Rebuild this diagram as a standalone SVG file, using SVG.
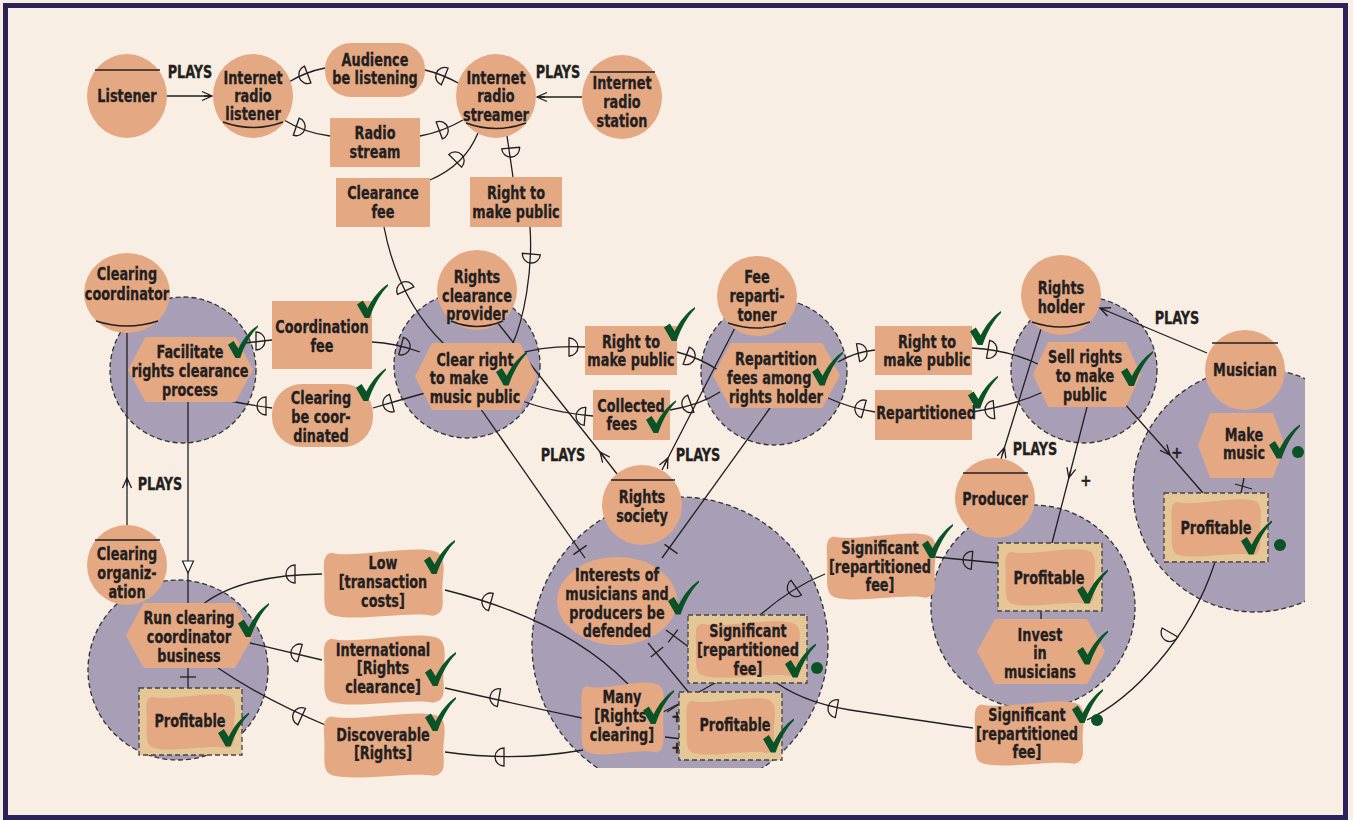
<svg xmlns="http://www.w3.org/2000/svg" xmlns:xlink="http://www.w3.org/1999/xlink" width="1353" height="820" viewBox="0 0 1353 820">
<style>
.t{font-family:"Liberation Sans Narrow","DejaVu Sans Condensed","Roboto Condensed","Liberation Sans",sans-serif;font-weight:bold;font-size:17px;fill:#231f20;stroke:#231f20;stroke-width:0.3;text-anchor:middle}
.plus{font-size:15px}
.sal{fill:#e4a883}
.bnd{fill:#a89fb7;stroke:#333;stroke-width:1.3;stroke-dasharray:5 3}
.box{fill:#e5c697;stroke:#444;stroke-width:1.3;stroke-dasharray:5 3}
.ln{fill:none;stroke:#231f20;stroke-width:1.3}
.ag{stroke:#231f20;stroke-width:1.5;fill:none}
.chk{fill:#0a5327}
</style>
<defs>
<symbol id="hex" viewBox="0 0 100 60" preserveAspectRatio="none"><polygon points="0,30 14,0 86,0 100,30 86,60 14,60" fill="#e4a883"/></symbol>
<symbol id="soft" viewBox="0 0 100 60" preserveAspectRatio="none"><path d="M8,4 C25,9 75,-3 92,3 C101,6 99,18 98,30 C97,44 102,56 90,58 C72,54 28,63 10,58 C0,56 2,44 2,30 C2,18 -1,5 8,4 Z" fill="#e4a883"/></symbol>
<symbol id="ck" viewBox="0 0 32 36"><path d="M0,21 L6,17 L11,25 C16,15 23,6 32,0 L32,2 C24,10 18,21 13,35 L8,35 Z" fill="#0a5327"/></symbol>
<path id="dd" d="M-4,-9 A9,9 0 0 1 -4,9 Z" fill="none" stroke="#231f20" stroke-width="1.3"/>
<marker id="v" viewBox="0 0 12 12" refX="11" refY="6" markerWidth="12" markerHeight="12" markerUnits="userSpaceOnUse" orient="auto"><path d="M1,1.5 L11,6 L1,10.5 M3,6 L11,6" fill="none" stroke="#231f20" stroke-width="1.3"/></marker>
<marker id="tri" viewBox="0 0 14 14" refX="13" refY="7" markerWidth="14" markerHeight="14" markerUnits="userSpaceOnUse" orient="auto"><path d="M1,1.5 L13,7 L1,12.5 Z" fill="#fff" stroke="#231f20" stroke-width="1.2"/></marker>
<clipPath id="cRS"><rect x="0" y="0" width="1353" height="768"/></clipPath>
<clipPath id="cMu"><rect x="0" y="0" width="1305" height="820"/></clipPath>
</defs>

<rect x="0" y="0" width="1353" height="820" fill="#f8eee3"/>
<rect x="5.5" y="5.5" width="1340" height="812" fill="none" stroke="#2d2159" stroke-width="5"/>

<g id="boundaries">
<circle class="bnd" cx="183" cy="370" r="73"/>
<circle class="bnd" cx="178" cy="670" r="90"/>
<circle class="bnd" cx="467" cy="365" r="73"/>
<circle class="bnd" cx="774" cy="372" r="73"/>
<circle class="bnd" cx="1084" cy="370" r="73"/>
<circle class="bnd" cx="680" cy="645" r="148" clip-path="url(#cRS)"/>
<circle class="bnd" cx="1033" cy="607" r="102"/>
<circle class="bnd" cx="1255" cy="490" r="122" clip-path="url(#cMu)"/>
</g>

<g id="connectors">
<path class="ln" d="M167,96 L212,96" marker-end="url(#v)"/>
<path class="ln" d="M582,97 L537,97" marker-end="url(#v)"/>
<path class="ln" d="M289,82 Q305,72 325,68"/>
<path class="ln" d="M425,70 Q442,74 460,84"/>
<path class="ln" d="M284,120 Q305,133 330,136"/>
<path class="ln" d="M420,136 Q442,132 463,120"/>
<path class="ln" d="M478,133 Q465,165 430,180"/>
<path class="ln" d="M507,136 L513,177"/>
<path class="ln" d="M384,227 Q398,300 445,345"/>
<path class="ln" d="M530,227 C533,270 524,320 512,345"/>
<path class="ln" d="M245,343 L272,340"/>
<path class="ln" d="M372,342 Q395,343 420,352"/>
<path class="ln" d="M425,393 Q400,400 373,408"/>
<path class="ln" d="M272,408 Q250,405 230,401"/>
<path class="ln" d="M515,355 Q545,345 585,347"/>
<path class="ln" d="M677,352 Q700,358 718,370"/>
<path class="ln" d="M520,400 Q550,412 593,416"/>
<path class="ln" d="M670,410 Q700,405 720,392"/>
<path class="ln" d="M838,362 Q855,352 875,350"/>
<path class="ln" d="M828,398 Q850,408 875,412"/>
<path class="ln" d="M972,348 Q1010,350 1040,365"/>
<path class="ln" d="M1043,392 Q1015,405 972,412"/>
<path class="ln" d="M1207,353 L1100,308" marker-end="url(#v)"/>
<path class="ln" d="M1001,459 L1004.5,447.5 L1041,329" marker-mid="url(#v)"/>
<path class="ln" d="M127,525 L127,478 L127,333" marker-mid="url(#v)"/>
<path class="ln" d="M617,474 L600,452 L497,322" marker-mid="url(#v)"/>
<path class="ln" d="M662,470 L668,458 L738,322" marker-mid="url(#v)"/>
<path class="ln" d="M188,402 L188,573 L188,603" marker-mid="url(#tri)"/>
<path class="ln" d="M188,668 L188,688"/>
<line class="ln" x1="180" y1="677" x2="196" y2="677"/>
<path class="ln" d="M202,605 Q240,575 322,574"/>
<path class="ln" d="M250,643 L322,660"/>
<path class="ln" d="M218,668 Q265,700 330,727"/>
<path class="ln" d="M445,590 Q565,620 628,684"/>
<path class="ln" d="M445,688 Q520,705 582,718"/>
<path class="ln" d="M445,752 Q515,762 583,750"/>
<path class="ln" d="M478,405 L585,558"/>
<line class="ln" x1="573.4" y1="554.6" x2="586.6" y2="545.4"/>
<path class="ln" d="M770,408 L662,558"/>
<line class="ln" x1="664.5" y1="544.4" x2="677.5" y2="553.6"/>
<path class="ln" d="M666,630 L690,648"/>
<line class="ln" x1="668.2" y1="642.4" x2="677.8" y2="629.6"/>
<path class="ln" d="M648,643 L695,700"/>
<line class="ln" x1="650.8" y1="657.1" x2="663.2" y2="646.9"/>
<path class="ln" d="M727,677 Q700,690 667,712"/>
<path class="ln" d="M663,712 L690,698" marker-end="url(#v)"/>
<path class="ln" d="M665,737 L690,740" marker-end="url(#v)"/>
<path class="ln" d="M825,574 Q790,588 758,617"/>
<path class="ln" d="M770,678 Q800,702 850,710 Q930,722 973,728"/>
<path class="ln" d="M935,557 L998,563"/>
<path class="ln" d="M1087,407 L1068.8,478 L1052,543" marker-mid="url(#v)"/>
<path class="ln" d="M1123,402 L1170,455 L1203,493" marker-mid="url(#v)"/>
<path class="ln" d="M1244,478 L1241,493"/>
<line class="ln" x1="1235" y1="484" x2="1252" y2="489"/>
<path class="ln" d="M1041,611 L1041,619"/>
<path class="ln" d="M1215,562 C1190,640 1130,700 1087,720"/>
<use href="#dd" transform="translate(304,76) rotate(159)"/>
<use href="#dd" transform="translate(441,75) rotate(202)"/>
<use href="#dd" transform="translate(300,128) rotate(19)"/>
<use href="#dd" transform="translate(443,129) rotate(-20)"/>
<use href="#dd" transform="translate(458,158) rotate(-45)"/>
<use href="#dd" transform="translate(511,152) rotate(85)"/>
<use href="#dd" transform="translate(404,287) rotate(-115)"/>
<use href="#dd" transform="translate(531,258) rotate(95)"/>
<use href="#dd" transform="translate(260,341) rotate(0)"/>
<use href="#dd" transform="translate(405,347) rotate(15)"/>
<use href="#dd" transform="translate(388,404) rotate(165)"/>
<use href="#dd" transform="translate(262,406) rotate(180)"/>
<use href="#dd" transform="translate(573,347) rotate(0)"/>
<use href="#dd" transform="translate(690,357) rotate(20)"/>
<use href="#dd" transform="translate(581,416) rotate(185)"/>
<use href="#dd" transform="translate(687,405) rotate(160)"/>
<use href="#dd" transform="translate(862,352) rotate(-10)"/>
<use href="#dd" transform="translate(992,350) rotate(10)"/>
<use href="#dd" transform="translate(990,410) rotate(175)"/>
<use href="#dd" transform="translate(860,408) rotate(195)"/>
<use href="#dd" transform="translate(291,574) rotate(180)"/>
<use href="#dd" transform="translate(296,652) rotate(195)"/>
<use href="#dd" transform="translate(298,715) rotate(205)"/>
<use href="#dd" transform="translate(487,601) rotate(195)"/>
<use href="#dd" transform="translate(495,697) rotate(190)"/>
<use href="#dd" transform="translate(500,757) rotate(180)"/>
<use href="#dd" transform="translate(968,560) rotate(185)"/>
<use href="#dd" transform="translate(793,590) rotate(145)"/>
<use href="#dd" transform="translate(833,708) rotate(190)"/>
<use href="#dd" transform="translate(1168,636) rotate(120)"/>
<text class="t" x="190" y="78" transform="matrix(.84 0 0 1 30.4 0)">PLAYS</text>
<text class="t" x="558" y="78" transform="matrix(.84 0 0 1 89.28 0)">PLAYS</text>
<text class="t" x="1177" y="324" transform="matrix(.84 0 0 1 188.32 0)">PLAYS</text>
<text class="t" x="1035" y="455" transform="matrix(.84 0 0 1 165.6 0)">PLAYS</text>
<text class="t" x="160" y="490" transform="matrix(.84 0 0 1 25.6 0)">PLAYS</text>
<text class="t" x="563" y="461" transform="matrix(.84 0 0 1 90.08 0)">PLAYS</text>
<text class="t" x="698" y="461" transform="matrix(.84 0 0 1 111.68 0)">PLAYS</text>
<text class="t plus" x="1086" y="486">+</text>
<text class="t plus" x="1177" y="458">+</text>
<text class="t plus" x="677" y="722">+</text>
<text class="t plus" x="677" y="753">+</text>
</g>

<g id="listener"><ellipse class="sal" cx="127" cy="96" rx="40" ry="42"/><line class="ag" x1="95" y1="70" x2="160" y2="70"/><text class="t" x="127" y="102" transform="matrix(.84 0 0 1 20.32 0)">Listener</text></g>
<g id="irl"><ellipse class="sal" cx="253" cy="96" rx="40" ry="42"/><path class="ag" d="M223,122 Q253,133 283,122"/><text class="t" x="253" y="84" transform="matrix(.84 0 0 1 40.48 0)">Internet<tspan x="253" dy="18">radio</tspan><tspan x="253" dy="18">listener</tspan></text></g>
<g id="audience"><rect class="sal" x="325" y="43" width="100" height="54" rx="26"/><text class="t" x="375" y="66" transform="matrix(.84 0 0 1 60 0)">Audience<tspan x="375" dy="18">be listening</tspan></text></g>
<g id="radiostream"><rect class="sal" x="330" y="118" width="90" height="49"/><text class="t" x="375" y="139" transform="matrix(.84 0 0 1 60 0)">Radio<tspan x="375" dy="19">stream</tspan></text></g>
<g id="streamer"><ellipse class="sal" cx="496" cy="96" rx="40" ry="42"/><path class="ag" d="M466,123 Q496,134 526,123"/><text class="t" x="496" y="84" transform="matrix(.84 0 0 1 79.36 0)">Internet<tspan x="496" dy="18">radio</tspan><tspan x="496" dy="19">streamer</tspan></text></g>
<g id="station"><ellipse class="sal" cx="622" cy="97" rx="40" ry="42"/><line class="ag" x1="590" y1="72" x2="655" y2="72"/><text class="t" x="622" y="89" transform="matrix(.84 0 0 1 99.52 0)">Internet<tspan x="622" dy="19">radio</tspan><tspan x="622" dy="19">station</tspan></text></g>
<g id="clearancefee"><rect class="sal" x="336" y="178" width="94" height="49"/><text class="t" x="383" y="199" transform="matrix(.84 0 0 1 61.28 0)">Clearance<tspan x="383" dy="19">fee</tspan></text></g>
<g id="righttop"><rect class="sal" x="470" y="177" width="92" height="50"/><text class="t" x="516" y="199" transform="matrix(.84 0 0 1 82.56 0)">Right to<tspan x="516" dy="19">make public</tspan></text></g>

<g id="clearingcoordinator"><ellipse class="sal" cx="127" cy="293" rx="43" ry="40"/><path class="ag" d="M96,321 Q127,331 158,321"/><text class="t" x="127" y="280" transform="matrix(.84 0 0 1 20.32 0)">Clearing<tspan x="127" dy="20">coordinator</tspan></text></g>
<g id="facilitate"><use href="#hex" x="128" y="337" width="125" height="65"/><text class="t" x="190" y="358" transform="matrix(.84 0 0 1 30.4 0)">Facilitate<tspan x="190" dy="19">rights clearance</tspan><tspan x="190" dy="19">process</tspan></text><use href="#ck" x="228" y="325" width="30" height="34"/></g>
<g id="coordfee"><rect class="sal" x="272" y="301" width="100" height="68"/><text class="t" x="322" y="333" transform="matrix(.84 0 0 1 51.52 0)">Coordination<tspan x="322" dy="19">fee</tspan></text><use href="#ck" x="357" y="284" width="31" height="35"/></g>
<g id="clearingcoord"><rect class="sal" x="272" y="384" width="101" height="63" rx="30"/><text class="t" x="321" y="404" transform="matrix(.84 0 0 1 51.36 0)">Clearing<tspan x="321" dy="19">be coor-</tspan><tspan x="321" dy="19">dinated</tspan></text><use href="#ck" x="356" y="368" width="30" height="34"/></g>
<g id="provider"><circle class="sal" cx="477" cy="290" r="40"/><path class="ag" d="M451,321 Q477,332 503,321"/><text class="t" x="477" y="283" transform="matrix(.84 0 0 1 76.32 0)">Rights<tspan x="477" dy="19">clearance</tspan><tspan x="477" dy="18">provider</tspan></text></g>
<g id="clearright"><use href="#hex" x="415" y="343" width="122" height="67"/><text class="t" x="475" y="366" transform="matrix(.84 0 0 1 76 0)">Clear right<tspan x="456" dy="18">to make</tspan><tspan x="475" dy="19">music public</tspan></text><use href="#ck" x="496" y="351" width="31" height="36"/></g>
<g id="right1"><rect class="sal" x="585" y="326" width="92" height="49"/><text class="t" x="631" y="348" transform="matrix(.84 0 0 1 100.96 0)">Right to<tspan x="631" dy="18">make public</tspan></text><use href="#ck" x="664" y="307" width="31" height="35"/></g>
<g id="collected"><rect class="sal" x="593" y="390" width="77" height="50"/><text class="t" x="631" y="412" transform="matrix(.84 0 0 1 100.96 0)">Collected<tspan x="620" dy="18">fees</tspan></text><use href="#ck" x="646" y="400" width="30" height="34"/></g>
<g id="repartitioner"><circle class="sal" cx="757" cy="296" r="40"/><path class="ag" d="M728,323 Q757,333 786,323"/><text class="t" x="757" y="283" transform="matrix(.84 0 0 1 121.12 0)">Fee<tspan x="757" dy="19">reparti-</tspan><tspan x="757" dy="19">toner</tspan></text></g>
<g id="repartition"><use href="#hex" x="713" y="343" width="127" height="65"/><text class="t" x="776" y="365" transform="matrix(.84 0 0 1 124.16 0)">Repartition<tspan x="768" dy="19">fees among</tspan><tspan x="776" dy="19">rights holder</tspan></text><use href="#ck" x="812" y="351" width="31" height="36"/></g>
<g id="right2"><rect class="sal" x="875" y="326" width="97" height="49"/><text class="t" x="927" y="348" transform="matrix(.84 0 0 1 148.32 0)">Right to<tspan x="927" dy="18">make public</tspan></text><use href="#ck" x="970" y="311" width="31" height="35"/></g>
<g id="repartitioned"><rect class="sal" x="875" y="390" width="97" height="50"/><text class="t" x="926" y="419" transform="matrix(.84 0 0 1 148.16 0)">Repartitioned</text><use href="#ck" x="968" y="375" width="30" height="35"/></g>
<g id="rightsholder"><circle class="sal" cx="1061" cy="295" r="40"/><path class="ag" d="M1032,322 Q1061,332 1090,322"/><text class="t" x="1061" y="294" transform="matrix(.84 0 0 1 169.76 0)">Rights<tspan x="1061" dy="19">holder</tspan></text></g>
<g id="sellrights"><use href="#hex" x="1033" y="342" width="108" height="65"/><text class="t" x="1085" y="363" transform="matrix(.84 0 0 1 173.6 0)">Sell rights<tspan x="1085" dy="19">to make</tspan><tspan x="1085" dy="19">public</tspan></text><use href="#ck" x="1121" y="351" width="32" height="36"/></g>
<g id="musician"><circle class="sal" cx="1245" cy="370" r="40"/><line class="ag" x1="1212" y1="343" x2="1278" y2="343"/><text class="t" x="1245" y="376" transform="matrix(.84 0 0 1 199.2 0)">Musician</text></g>
<g id="makemusic"><use href="#hex" x="1198" y="413" width="87" height="65"/><text class="t" x="1244" y="441" transform="matrix(.84 0 0 1 199.04 0)">Make<tspan x="1244" dy="18">music</tspan></text><use href="#ck" x="1269" y="424" width="31" height="36"/><circle cx="1298" cy="452" r="6" class="chk"/></g>
<g id="profmusician"><rect class="box" x="1164" y="493" width="104" height="69"/><use href="#soft" x="1170" y="498" width="92" height="59"/><text class="t" x="1216" y="534" transform="matrix(.84 0 0 1 194.56 0)">Profitable</text><use href="#ck" x="1241" y="520" width="31" height="36"/><circle cx="1280" cy="545" r="6" class="chk"/></g>
<g id="producer"><circle class="sal" cx="995" cy="498" r="40"/><line class="ag" x1="963" y1="473" x2="1028" y2="473"/><text class="t" x="995" y="505" transform="matrix(.84 0 0 1 159.2 0)">Producer</text></g>
<g id="profproducer"><rect class="box" x="998" y="543" width="104" height="68"/><use href="#soft" x="1004" y="548" width="92" height="58"/><text class="t" x="1049" y="584" transform="matrix(.84 0 0 1 167.84 0)">Profitable</text><use href="#ck" x="1077" y="569" width="31" height="36"/></g>
<g id="invest"><use href="#hex" x="977" y="619" width="128" height="65"/><text class="t" x="1040" y="641" transform="matrix(.84 0 0 1 166.4 0)">Invest<tspan x="1040" dy="18">in</tspan><tspan x="1040" dy="19">musicians</tspan></text><use href="#ck" x="1077" y="630" width="31" height="36"/></g>
<g id="sigmid"><use href="#soft" x="825" y="532" width="112" height="68"/><text class="t" x="880" y="554" transform="matrix(.84 0 0 1 140.8 0)">Significant<tspan x="880" dy="19">[repartitioned</tspan><tspan x="880" dy="18">fee]</tspan></text><use href="#ck" x="922" y="524" width="31" height="35"/></g>
<g id="sigbr"><use href="#soft" x="973" y="700" width="112" height="66"/><text class="t" x="1027" y="721" transform="matrix(.84 0 0 1 164.32 0)">Significant<tspan x="1027" dy="19">[repartitioned</tspan><tspan x="1027" dy="18">fee]</tspan></text><use href="#ck" x="1072" y="689" width="31" height="35"/><circle cx="1097" cy="720" r="6" class="chk"/></g>

<g id="rightssociety"><circle class="sal" cx="642" cy="505" r="40"/><line class="ag" x1="611" y1="480" x2="675" y2="480"/><text class="t" x="642" y="503" transform="matrix(.84 0 0 1 102.72 0)">Rights<tspan x="642" dy="19">society</tspan></text></g>
<g id="interests"><ellipse class="sal" cx="617" cy="601" rx="60" ry="44"/><text class="t" x="617" y="581" transform="matrix(.84 0 0 1 98.72 0)">Interests of<tspan x="617" dy="19">musicians and</tspan><tspan x="617" dy="19">producers be</tspan><tspan x="617" dy="18">defended</tspan></text><use href="#ck" x="668" y="580" width="31" height="36"/></g>
<g id="siginner"><rect class="box" x="688" y="615" width="119" height="68"/><use href="#soft" x="694" y="620" width="107" height="58"/><text class="t" x="748" y="637" transform="matrix(.84 0 0 1 119.68 0)">Significant<tspan x="748" dy="19">[repartitioned</tspan><tspan x="748" dy="19">fee]</tspan></text><use href="#ck" x="785" y="643" width="31" height="36"/><circle cx="817" cy="668" r="6" class="chk"/></g>
<g id="many"><use href="#soft" x="580" y="681" width="85" height="74"/><text class="t" x="622" y="703" transform="matrix(.84 0 0 1 99.52 0)">Many<tspan x="620" dy="19">[Rights</tspan><tspan x="622" dy="19">clearing]</tspan></text><use href="#ck" x="643" y="690" width="31" height="35"/></g>
<g id="profrs"><rect class="box" x="679" y="692" width="103" height="68"/><use href="#soft" x="685" y="697" width="91" height="58"/><text class="t" x="735" y="731" transform="matrix(.84 0 0 1 117.6 0)">Profitable</text><use href="#ck" x="763" y="718" width="31" height="36"/></g>

<g id="clearingorg"><circle class="sal" cx="127" cy="565" r="40"/><line class="ag" x1="95" y1="540" x2="160" y2="540"/><text class="t" x="127" y="560" transform="matrix(.84 0 0 1 20.32 0)">Clearing<tspan x="127" dy="19">organiz-</tspan><tspan x="127" dy="19">ation</tspan></text></g>
<g id="runclearing"><use href="#hex" x="126" y="603" width="127" height="65"/><text class="t" x="189" y="624" transform="matrix(.84 0 0 1 30.24 0)">Run clearing<tspan x="189" dy="19">coordinator</tspan><tspan x="189" dy="19">business</tspan></text><use href="#ck" x="238" y="603" width="31" height="35"/></g>
<g id="profco"><rect class="box" x="139" y="688" width="103" height="67"/><use href="#soft" x="145" y="693" width="91" height="57"/><text class="t" x="190" y="727" transform="matrix(.84 0 0 1 30.4 0)">Profitable</text><use href="#ck" x="218" y="712" width="31" height="36"/></g>
<g id="low"><use href="#soft" x="322" y="548" width="123" height="70"/><text class="t" x="383" y="569" transform="matrix(.84 0 0 1 61.28 0)">Low<tspan x="383" dy="19">[transaction</tspan><tspan x="383" dy="19">costs]</tspan></text><use href="#ck" x="424" y="540" width="31" height="35"/></g>
<g id="international"><use href="#soft" x="322" y="634" width="124" height="71"/><text class="t" x="383" y="656" transform="matrix(.84 0 0 1 61.28 0)">International<tspan x="383" dy="18">[Rights</tspan><tspan x="383" dy="19">clearance]</tspan></text><use href="#ck" x="425" y="652" width="31" height="35"/></g>
<g id="discoverable"><use href="#soft" x="322" y="712" width="124" height="66"/><text class="t" x="383" y="741" transform="matrix(.84 0 0 1 61.28 0)">Discoverable<tspan x="383" dy="18">[Rights]</tspan></text><use href="#ck" x="425" y="697" width="31" height="35"/></g>
</svg>
